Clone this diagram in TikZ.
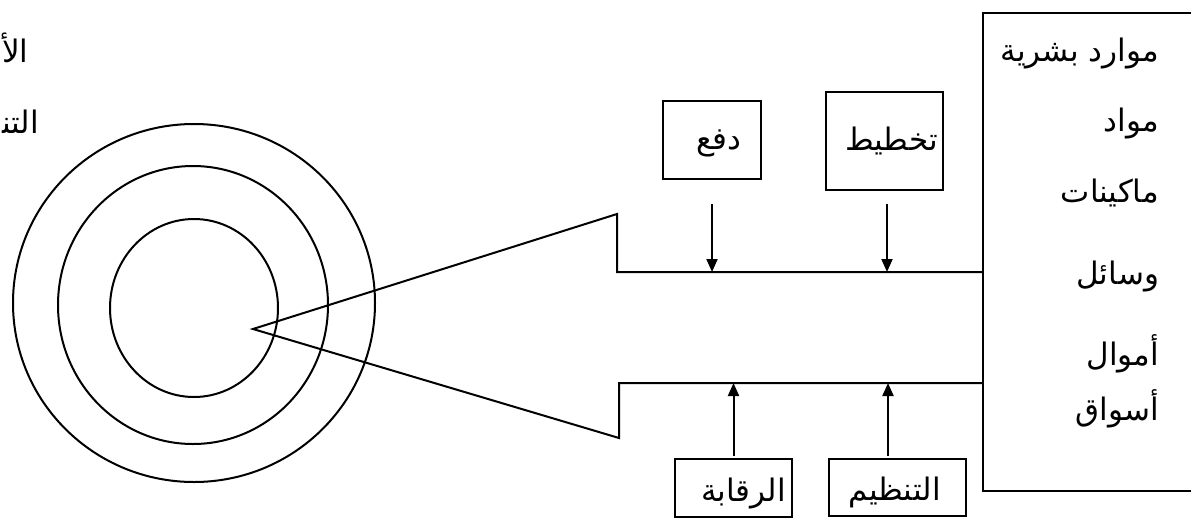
\documentclass[tikz,border=0pt]{standalone}
\usepackage{fontspec}
\newfontfamily\arabicfont[Script=Arabic]{DejaVu Sans}
\TeXXeTstate=1
\usetikzlibrary{arrows.meta}
\newcommand{\artext}[1]{\arabicfont\beginR #1\endR}

\begin{document}
\begin{tikzpicture}[x=1pt, y=-1pt, line width=2pt,
  lbl/.style={font=\arabicfont\fontsize{31}{36}\selectfont, inner sep=0pt},
  fnbox/.style={draw, rectangle, inner sep=0pt},
  arr/.style={-{Triangle[width=11pt,length=13pt]}, line width=2pt}]
\useasboundingbox (0,0) rectangle (1191,520);
\clip (0,0) rectangle (1191,520);
\fill[white] (0,0) rectangle (1191,520);

% target rings
\draw (194,308) ellipse [x radius=84pt, y radius=89pt];
\draw (193,305) ellipse [x radius=135pt, y radius=139pt];
\draw (194,303) ellipse [x radius=181pt, y radius=179pt];

% resources box on the right
\node[fnbox, minimum width=220pt, minimum height=478pt, anchor=north west] (res) at (982,12) {};
\node[lbl, anchor=base east] (r1) at (1160,61) {\artext{موارد بشرية}};
\node[lbl, anchor=base east] (r2) at (1160,131) {\artext{مواد}};
\node[lbl, anchor=base east] (r3) at (1160,202) {\artext{ماكينات}};
\node[lbl, anchor=base east] (r4) at (1160,284) {\artext{وسائل}};
\node[lbl, anchor=base east] (r5) at (1160,365) {\artext{أموال}};
\node[lbl, anchor=base east] (r6) at (1160,420) {\artext{أسواق}};

% function boxes
\node[fnbox, minimum width=98pt, minimum height=78pt] (dafa) at (712,140) {};
\node[lbl] (tdafa) at ([xshift=7pt,yshift=-3pt]dafa.center) {\artext{دفع}};
\node[fnbox, minimum width=117pt, minimum height=98pt] (takh) at (884.5,141) {};
\node[lbl] (ttakh) at ([xshift=7pt]takh.center) {\artext{تخطيط}};
\node[fnbox, minimum width=117pt, minimum height=58pt] (raq) at (733.5,488) {};
\node[lbl] (traq) at ([xshift=10pt,yshift=-5pt]raq.center) {\artext{الرقابة}};
\node[fnbox, minimum width=137pt, minimum height=57pt] (tanz) at (897.5,487.5) {};
\node[lbl] (ttanz) at ([xshift=-3pt,yshift=-5pt]tanz.center) {\artext{التنظيم}};

% funnel from the resources to the target
\coordinate (tip) at (253,329);
\coordinate (uc) at (617,214);
\coordinate (ui) at (617,272);
\coordinate (lc) at (619,438);
\coordinate (li) at (619,383);
\draw[line join=miter] (res.west |- ui) -- (ui) -- (uc) -- (tip) -- (lc) -- (li) -- (res.west |- li);

% arrows of the management functions
\draw[arr] ([yshift=-24pt]dafa.south) -- (dafa.south |- ui);
\draw[arr] ([xshift=2.5pt,yshift=-13pt]takh.south) -- ([xshift=2.5pt]takh.south |- ui);
\draw[arr] ([yshift=2pt]raq.north) -- (raq.north |- li);
\draw[arr] ([xshift=-9.5pt,yshift=2pt]tanz.north) -- ([xshift=-9.5pt]tanz.north |- li);

% goal label at the left edge
\node[lbl, anchor=base west] (g1) at (1,62) {\artext{الأ}};
\node[lbl, anchor=base west] (g2) at (1,133) {\artext{التن‍}};
\end{tikzpicture}
\end{document}
